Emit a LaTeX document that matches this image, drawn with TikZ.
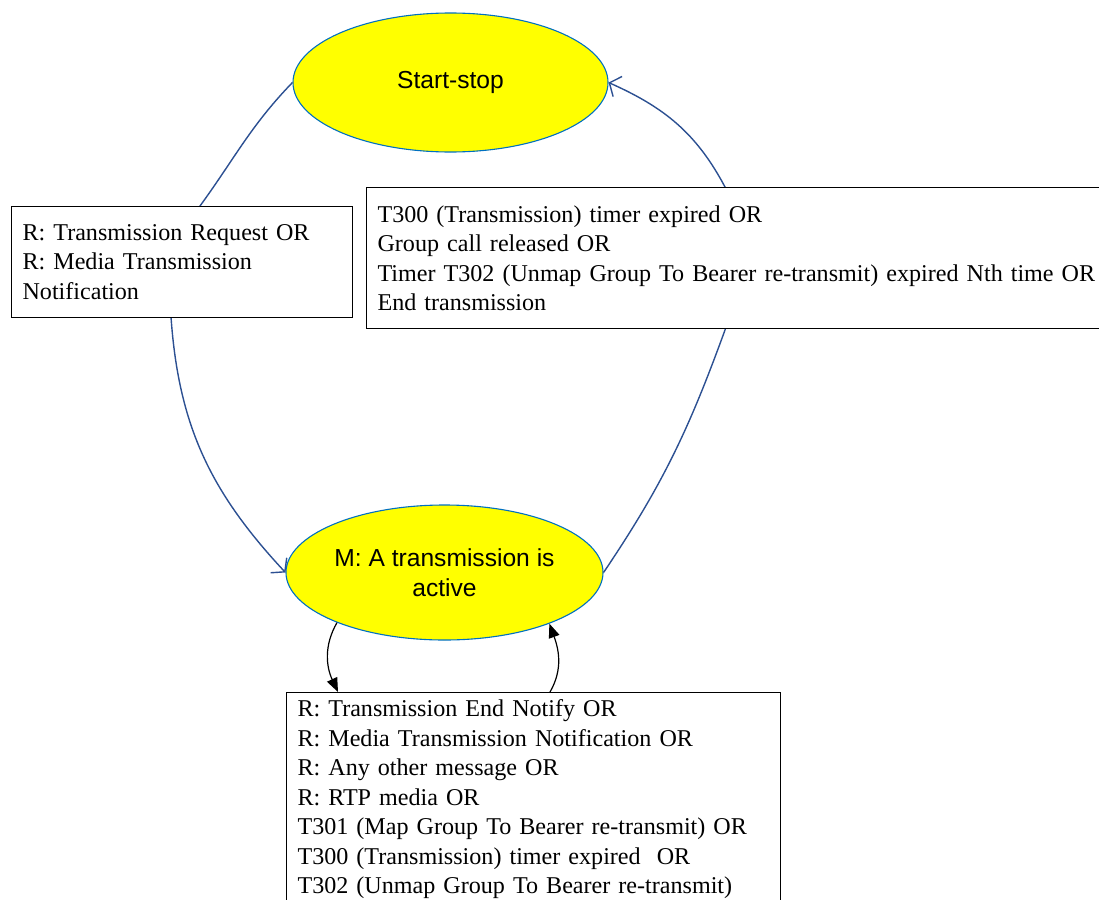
\documentclass[tikz,border=0pt]{standalone}
\usepackage{fontspec}
\setmainfont{Liberation Serif}
\newfontfamily\statefont{Liberation Sans}
\usetikzlibrary{arrows.meta,calc,shapes.geometric}
\definecolor{statebd}{RGB}{0,112,192}
\definecolor{statefill}{RGB}{255,255,0}
\definecolor{flow}{RGB}{44,80,146}
\newcommand{\condfont}{\fontsize{24.1}{29.5}\selectfont}
\begin{document}
\begin{tikzpicture}[x=1pt, y=-1pt,
  state/.style={ellipse, draw=statebd, line width=1.1pt, fill=statefill,
    inner sep=0pt, align=center,
    font=\statefont\fontsize{24.6}{30}\selectfont},
  cond/.style={rectangle, draw, fill=white, line width=1.1pt,
    anchor=north west, align=left, inner xsep=11pt, font=\condfont},
  flowline/.style={draw=flow, line width=1.4pt,
    -{Straight Barb[length=9pt,width=22pt]}},
  loopline/.style={draw=black, line width=1.2pt,
    -{Triangle[length=14pt,width=11pt]}}]
\useasboundingbox (0,0) rectangle (1099,899);

\node[state, minimum width=315pt, minimum height=139pt]
  (idle) at (450.5,82.5) {Start-stop};
\node[state, minimum width=317pt, minimum height=135pt]
  (active) at (444.5,572.5) {M: A transmission is\\active};

\draw[flowline] (idle.west) to[out=226, in=54] (200,206)
  to[out=-124, in=94] (171,317)
  to[out=-86, in=133] (active.west);
\draw[flowline] (active.east) to[out=56, in=-110] (725,330)
  to[out=72, in=-62] (725,187)
  to[out=118, in=-24] (idle.east);

\node[cond, text width=319pt, minimum height=111pt] (req) at (11,206)
  {R: Transmission Request OR\\
   R: Media Transmission\\
   Notification};
\node[cond, text width=760pt, minimum height=141pt] (rel) at (366,187)
  {T300 (Transmission) timer expired OR\\
   Group call released OR\\
   Timer T302 (Unmap Group To Bearer re-transmit) expired Nth time OR\\
   End transmission};
\node[cond, text width=472pt, inner ysep=7pt] (stay) at (286,692)
  {R: Transmission End Notify OR\\
   R: Media Transmission Notification OR\\
   R: Any other message OR\\
   R: RTP media OR\\
   T301 (Map Group To Bearer re-transmit) OR\\
   T300 (Transmission) timer expired\ \ OR\\
   T302 (Unmap Group To Bearer re-transmit)};

\draw[loopline] (active.205.5) to[out=240, in=115]
  ($(stay.north west)+(52,0)$);
\draw[loopline] ($(stay.north west)+(264,0)$) to[out=60, in=-70]
  (active.334.7);
\end{tikzpicture}
\end{document}
